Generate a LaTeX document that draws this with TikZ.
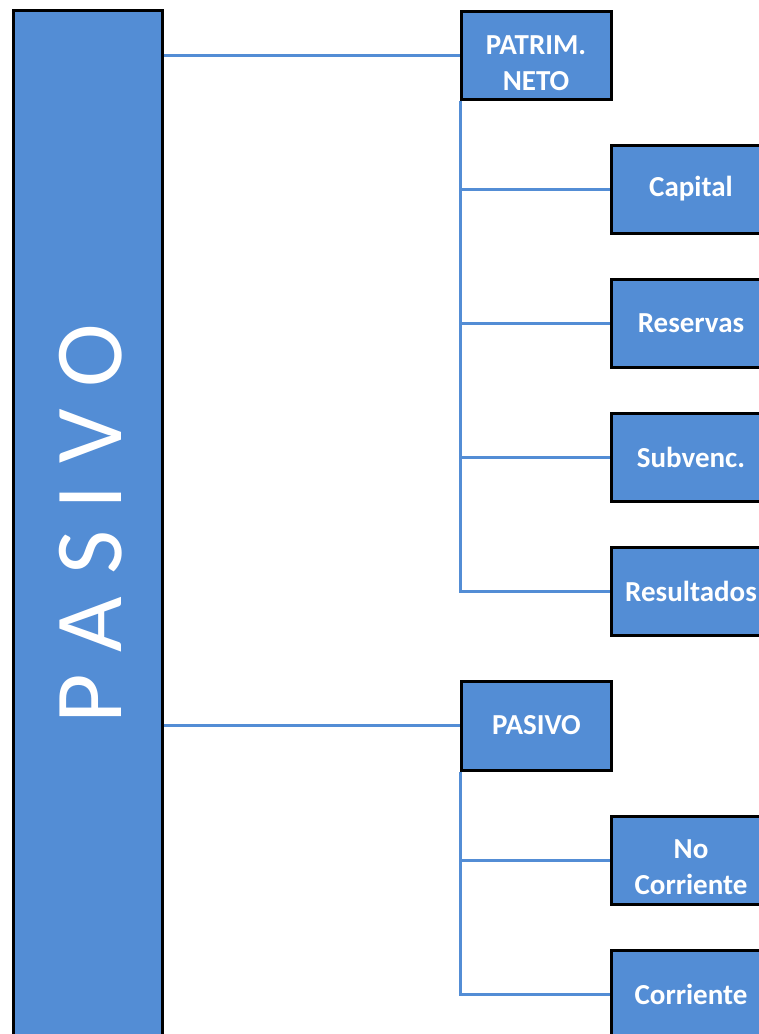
\documentclass[tikz,border=0pt]{standalone}
\usepackage{fontspec}
\setmainfont{Carlito}
\definecolor{boxblue}{HTML}{538DD5}
\tikzset{
  bluebox/.style={draw=black, line width=3pt, fill=boxblue, text=white,
    minimum width=150pt, minimum height=88pt, inner sep=0pt, align=center,
    font=\fontsize{29}{36}\selectfont\bfseries},
  childbox/.style={bluebox, minimum width=159pt},
  boxtext/.style={text=white, align=center, inner sep=0pt,
    font=\fontsize{29}{36}\selectfont\bfseries},
  link/.style={draw=boxblue, line width=3pt},
}
\begin{document}
\begin{tikzpicture}[x=1pt,y=-1pt]
\useasboundingbox (0,0) rectangle (759,1034);
\clip (0,0) rectangle (759,1034);
% main column
\node[draw=black, line width=3pt, fill=boxblue, minimum width=148.5pt,
  minimum height=1034.5pt, inner sep=0pt] (main) at (87.75,527.75) {};
\node[text=white, rotate=90, inner sep=0pt, font=\fontsize{96}{96}\selectfont]
  (maintext) at (91,523.5) {P A S I V O};
% first group
\node[bluebox, minimum height=87.5pt] (patr) at (536.5,55.25) {};
\node[boxtext] (patrtext) at (536,63) {PATRIM.\\NETO};
\node[childbox] (cap) at (691,189) {Capital};
\node[childbox] (res) at (691,323) {Reservas};
\node[childbox] (sub) at (691,457) {Subvenc.};
\node[childbox] (resu) at (691,591.5) {Resultados};
% second group
\node[bluebox, minimum height=89pt] (pas) at (536.5,725.5) {PASIVO};
\node[childbox] (nc) at (691,860) {};
\node[boxtext] (nctext) at (691,867.5) {No\\Corriente};
\node[childbox] (co) at (691,994) {Corriente};
% connectors
\draw[link] (main.east |- patr.west) -- (patr.west);
\draw[link] (main.east |- pas.west) -- (pas.west);
\draw[link] (patr.south west) |- (resu.west);
\draw[link] (patr.south west |- cap.west) -- (cap.west);
\draw[link] (patr.south west |- res.west) -- (res.west);
\draw[link] (patr.south west |- sub.west) -- (sub.west);
\draw[link] (pas.south west) |- (co.west);
\draw[link] (pas.south west |- nc.west) -- (nc.west);
\end{tikzpicture}
\end{document}
